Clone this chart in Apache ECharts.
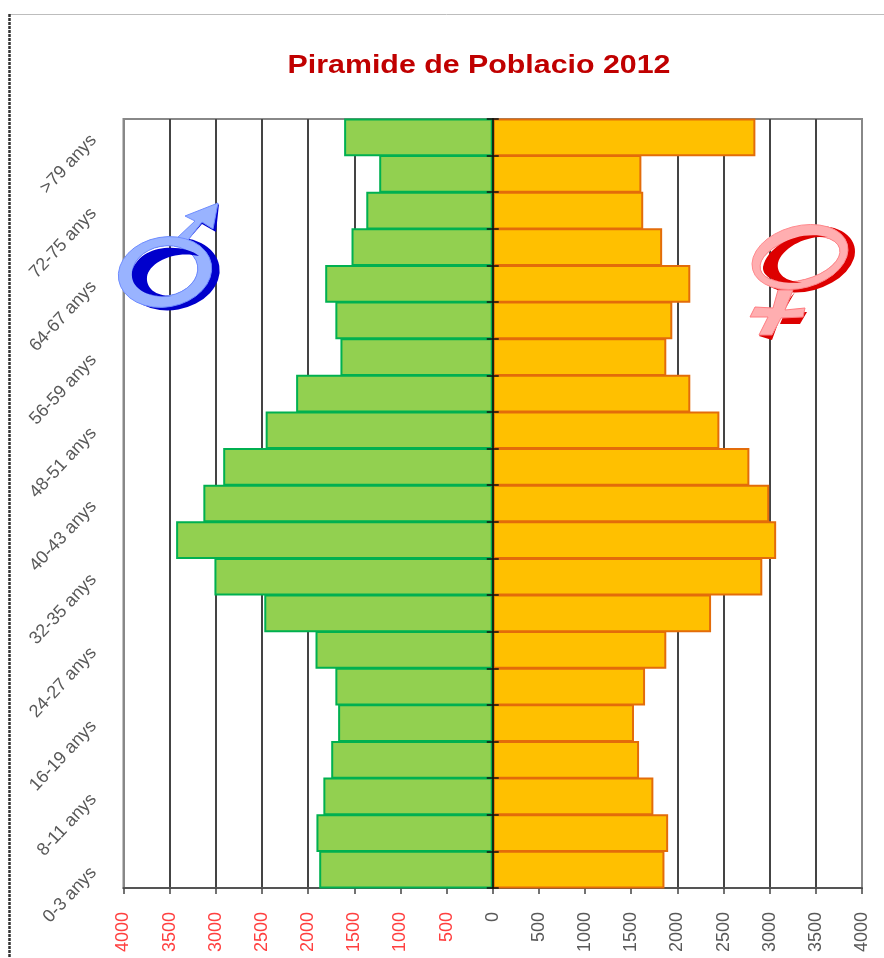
<!DOCTYPE html>
<html lang="ca">
<head>
<meta charset="utf-8">
<script src="https://cdn.jsdelivr.net/npm/echarts@6/dist/echarts.min.js"></script>
<style>
    html, body { margin: 0; padding: 0; background: #fff; }
    #chart { width: 884px; height: 958px; }
</style>
</head>
<body>
<div id="chart"></div>
<script>
    // de baix a dalt, com al grafic
    var ages = ['0-3 anys', '4-7 anys', '8-11 anys', '12-15 anys', '16-19 anys', '20-23 anys', '24-27 anys',
        '28-31 anys', '32-35 anys', '36-39 anys', '40-43 anys', '44-47 anys', '48-51 anys', '52-55 anys',
        '56-59 anys', '60-63 anys', '64-67 anys', '68-71 anys', '72-75 anys', '76-79 anys', '>79 anys'];
    var men = [1880, 1910, 1835, 1750, 1675, 1705, 1920, 2475, 3015, 3430, 3135, 2920, 2460, 2130, 1650, 1705, 1815, 1530, 1370, 1230, 1610];
    var women = [1860, 1900, 1740, 1585, 1530, 1650, 1880, 2365, 2920, 3070, 2995, 2780, 2455, 2140, 1880, 1945, 2140, 1835, 1630, 1610, 2845];
    var title = 'Piramide de Poblacio 2012';

    var myChart = echarts.init(document.getElementById('chart'));

    // el·lipse com a path; sweep canvia el sentit per poder fer forats
    function ell(cx, cy, rx, ry, rot, sweep) {
        var a = rot * Math.PI / 180;
        var dx = rx * Math.cos(a), dy = rx * Math.sin(a);
        return 'M' + (cx - dx) + ',' + (cy - dy) +
            'A' + rx + ',' + ry + ',' + rot + ',1,' + sweep + ',' + (cx + dx) + ',' + (cy + dy) +
            'A' + rx + ',' + ry + ',' + rot + ',1,' + sweep + ',' + (cx - dx) + ',' + (cy - dy) + 'Z';
    }
    // el component graphic no accepta type path, es registra cada forma
    var shapeCount = 0;
    function shape(d, fill, stroke, lw) {
        var name = 'decor' + (shapeCount++);
        echarts.graphic.registerShape(name, echarts.graphic.extendPath(d, {}));
        return {
            type: name, z: 50,
            style: { fill: fill, stroke: stroke || null, lineWidth: lw || 0 }
        };
    }

    var decor = [
        // marc
        { type: 'line', z: 1, shape: { x1: 9, y1: 14.5, x2: 884, y2: 14.5 }, style: { stroke: '#bdbdbd', lineWidth: 1 } },
        { type: 'line', z: 1, shape: { x1: 9.5, y1: 14, x2: 9.5, y2: 958 }, style: { stroke: '#333', lineWidth: 2.5, lineDash: [3, 1] } },

        // titol, mes ample que la lletra original
        {
            type: 'text', z: 20, x: 479, y: 65.5, scaleX: 1.19,
            style: {
                text: title, align: 'center', verticalAlign: 'middle',
                font: 'bold 25.5px "Liberation Sans"', fill: '#c00000'
            }
        },

        // simbol masculi
        shape('M188,240 L202,224 L216,232 L219,204 L205,215 Z', '#0000cc'),
        shape(ell(172, 274, 48, 36, -10, 1) + ell(165, 271, 33, 25, -10, 0), '#0000cc'),
        shape('M177,238 L195,221 L185,216 L218,203 L213,229 L202,222 L188,240 Z', '#99b3ff', '#6e8cff', 1),
        shape(ell(165, 272, 47, 35, -10, 1) + ell(165, 271, 33, 25, -10, 0), '#99b3ff', '#6e8cff', 1),
        shape('M199,256 C185,244,140,242,132,272 C130,290,150,298,172,296 C155,296,146,288,147,277 C149,262,175,250,199,256 Z', '#0000cc'),

        // simbol femeni
        shape('M795,292 L780,318 L772,340 L759,336 Z', '#dd0000'),
        shape('M807,312 L800,324 L780,324 L785,312 Z', '#dd0000'),
        shape(ell(806, 259, 50, 32, -15, 1) + ell(800, 259, 41, 21, -15, 0), '#dd0000'),
        shape('M778,290 L793,290 L785,310 L805,308 L803,317 L781,318 L772,335 L759,335 L768,317 L750,317 L755,307 L773,308 Z',
            '#ffaeb0', '#ff7b80', 1),
        shape(ell(800, 257, 49, 31, -15, 1) + ell(800, 259, 41, 21, -15, 0), '#ffaeb0', '#ff8a8e', 1),
        shape('M828,237 C798,230,768,245,763,267 C762,280,785,285,802,282 C786,282,776,274,778,263 C782,248,806,235,828,237 Z', '#dd0000')
    ];

    var option = {
        animation: false,
        backgroundColor: '#fff',
        grid: {
            left: 123.5, right: 22, top: 119, bottom: 70,
            show: true, borderColor: '#888', borderWidth: 2,
            containLabel: false
        },
        xAxis: {
            type: 'value',
            min: -4000, max: 4000, interval: 500,
            axisLine: { show: true, onZero: false, lineStyle: { color: '#555', width: 2 } },
            axisTick: { show: true, length: 6, lineStyle: { color: '#444', width: 1.5 } },
            axisLabel: {
                rotate: 90,
                margin: 24,
                fontFamily: 'Liberation Sans',
                fontSize: 18,
                color: function (v) { return v < 0 ? '#ff4040' : '#595959'; },
                formatter: function (v) { return String(Math.abs(v)); }
            },
            splitLine: {
                show: true,
                lineStyle: {
                    width: 2,
                    color: ['#888', '#444', '#444', '#444', '#444', '#444', '#444', '#444', '#444',
                        '#444', '#444', '#444', '#444', '#444', '#444', '#444', '#888']
                }
            }
        },
        yAxis: [
            {
                // etiquetes a l'esquerra
                type: 'category', data: ages, position: 'left',
                axisLine: { show: false, onZero: false },
                axisTick: { show: false },
                axisLabel: {
                    interval: 1, rotate: 47, margin: 30, padding: [6, 0, 0, 0],
                    fontFamily: 'Liberation Sans', fontSize: 18, color: '#595959'
                }
            },
            {
                // eix central, marques cap a la dreta
                type: 'category', data: ages, z: 10, position: 'left',
                axisLine: { show: true, onZero: true, lineStyle: { color: '#1a2a10', width: 2 } },
                axisTick: { show: true, inside: true, length: 6, lineStyle: { color: '#111', width: 1.5 } },
                axisLabel: { show: false }
            },
            {
                // nomes un eix pot anar a zero: aquest hi arriba amb offset, marques cap a l'esquerra
                type: 'category', data: ages, z: 10, position: 'left', offset: -369.25,
                axisLine: { show: false, onZero: false },
                axisTick: { show: true, length: 6, lineStyle: { color: '#111', width: 1.5 } },
                axisLabel: { show: false }
            }
        ],
        series: [
            {
                name: 'Homes', type: 'bar', barGap: '-100%', barWidth: '103%',
                data: men.map(function (v) { return -v; }),
                itemStyle: { color: '#92d050', borderColor: '#00b050', borderWidth: 2 }
            },
            {
                name: 'Dones', type: 'bar', barWidth: '103%',
                data: women,
                itemStyle: { color: '#ffc000', borderColor: '#e36c0a', borderWidth: 2 }
            }
        ],
        graphic: decor
    };

    myChart.setOption(option);
</script>
</body>
</html>
